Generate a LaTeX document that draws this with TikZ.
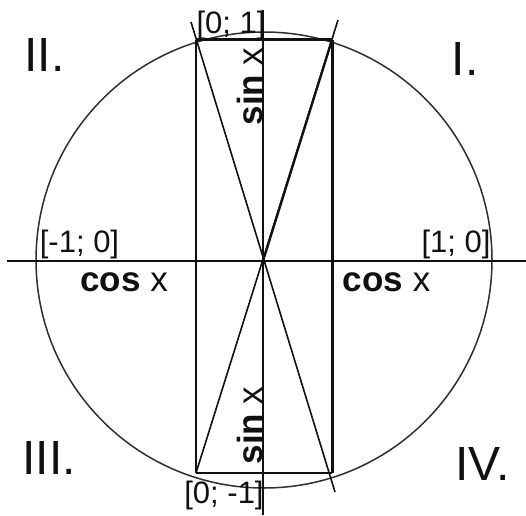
\documentclass[tikz,border=0pt]{standalone}
\usepackage{fontspec}
\setmainfont{Liberation Sans}
\usepackage{xcolor}
\definecolor{UCInk}{HTML}{111111}
\definecolor{UCCircle}{HTML}{2E2E2E}

\begin{document}
\begin{tikzpicture}[
  x=1pt,y=1pt,
  axis/.style={draw=UCInk,line width=1.7pt},
  guide/.style={draw=UCInk,line width=1.6pt},
  proj/.style={draw=UCInk,line width=3pt},
  radius/.style={draw=UCInk,line width=2.3pt},
  circ/.style={draw=UCCircle,line width=1.5pt},
  coord/.style={font=\fontsize{31}{31}\selectfont,inner sep=0pt,text=UCInk},
  func/.style={font=\fontsize{35}{35}\selectfont,inner sep=0pt,text=UCInk},
  quad/.style={font=\fontsize{48}{48}\selectfont,inner sep=0pt,text=UCInk}
]
\useasboundingbox (0,0) rectangle (526,515);

% unit circle with the point in quadrant I and its mirror images
\coordinate (O) at (263,254);
\coordinate (A) at (332,475);
\coordinate (B) at (196,475);
\coordinate (C) at (196,42);
\coordinate (D) at (332,42);
\coordinate (aTop) at (191,493);
\coordinate (aBot) at (335,23);
\coordinate (bTop) at (338,495);
\coordinate (xL) at (7,254);
\coordinate (xR) at (526,254);
\coordinate (yT) at (263,505);
\coordinate (yB) at (263,0);

\draw[circ] (264,255) circle (228);
\draw[axis] (xL) -- (xR);
\draw[axis] (yT) -- (yB);

\draw[guide] (B) -- (C);
\draw[guide] (C) -- (D);
\draw[guide] (aTop) -- (aBot);
\draw[guide] (bTop) -- (C);
\draw[radius] (O) -- (A);
\draw[proj] (B) -- (A);
\draw[proj] (A) -- (D);

\node[coord] (up) at (231,490) {[0; 1]};
\node[coord] (down) at (224,20) {[0; -1]};
\node[coord] (left) at (79.5,271) {[-1; 0]};
\node[coord] (right) at (456,271) {[1; 0]};

\node[func] (cosL) at (124,232.5) {{\bfseries cos} x};
\node[func] (cosR) at (386.5,232.5) {{\bfseries cos} x};
\node[func,rotate=90,anchor=base] (sinT) at (262,428.5) {{\bfseries sin} x};
\node[func,rotate=90,anchor=base] (sinB) at (262,89.5) {{\bfseries sin} x};

\node[quad] (q1) at (465,456) {I.};
\node[quad] (q2) at (44.5,460) {II.};
\node[quad] (q3) at (49,57.5) {III.};
\node[quad] (q4) at (482.5,51.5) {IV.};

\end{tikzpicture}
\end{document}
